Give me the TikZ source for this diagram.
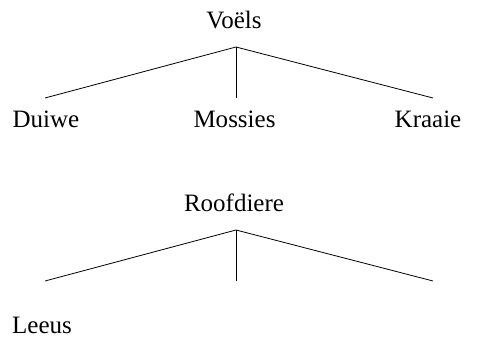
\documentclass[tikz,border=0pt]{standalone}
\usepackage{fontspec}
\setmainfont{Liberation Serif}
\usepackage{tikz}

\begin{document}
\begin{tikzpicture}[x=1pt,y=1pt]
        \useasboundingbox (0,0) rectangle (502,337);
        \begin{scope}[every node/.style={anchor=base,inner sep=0pt,font=\fontsize{25}{30}\selectfont}]
            \node (voels) at (234, 308) {Voëls};
            \node (duiwe) at (46, 209) {Duiwe};
            \node (mossies) at (234.5, 209) {Mossies};
            \node (kraaie) at (428, 209) {Kraaie};
            \node (roofdiere) at (234, 125.5) {Roofdiere};
            \node (leeus) at (42, 4) {Leeus};
        \end{scope}
        \coordinate (top1) at (236, 290);
        \coordinate (l1) at (45, 239);
        \coordinate (m1) at (236, 239);
        \coordinate (r1) at (433, 239);
        \coordinate (top2) at (236, 107);
        \coordinate (l2) at (45, 56);
        \coordinate (m2) at (236, 56);
        \coordinate (r2) at (433, 56);
        \path (top1) edge[draw=black,line width=0.8pt] (l1);
        \path (top1) edge[draw=black,line width=0.8pt] (m1);
        \path (top1) edge[draw=black,line width=0.8pt] (r1);
        \path (top2) edge[draw=black,line width=0.8pt] (l2);
        \path (top2) edge[draw=black,line width=0.8pt] (m2);
        \path (top2) edge[draw=black,line width=0.8pt] (r2);
    \end{tikzpicture}
\end{document}
